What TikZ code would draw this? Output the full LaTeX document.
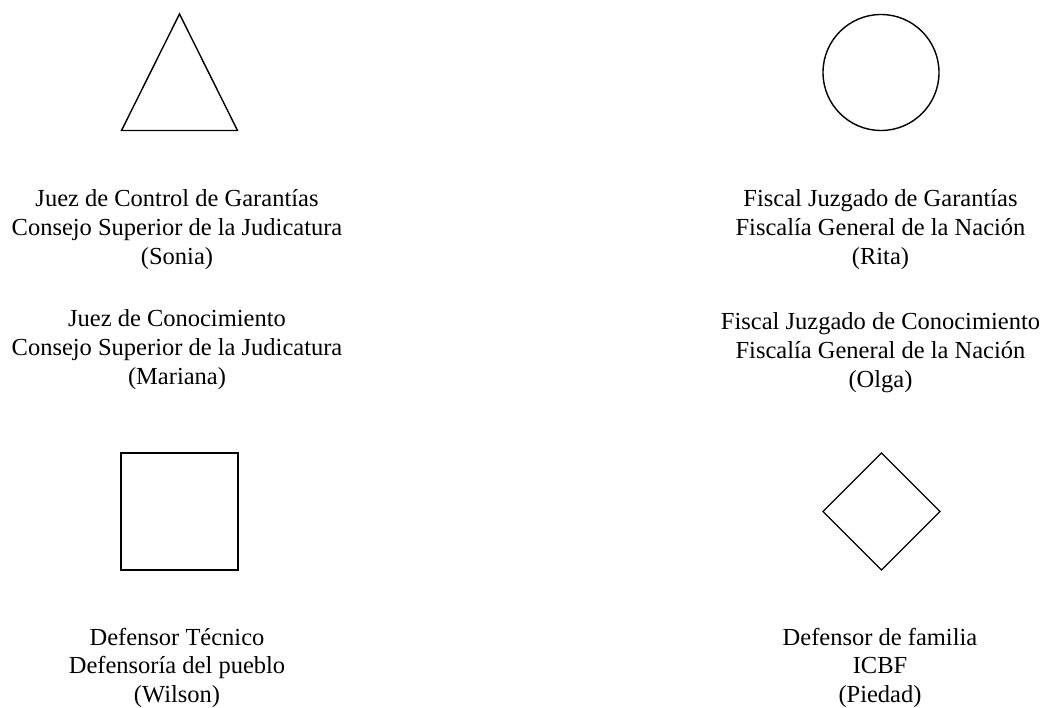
\documentclass[tikz,border=0pt]{standalone}
\usepackage{fontspec}
\setmainfont{Liberation Serif}
\tikzset{
  shapeline/.style={draw=black, line width=1.4pt, line join=miter},
  lbl/.style={anchor=base, inner sep=0pt, font=\fontsize{24.5}{28.8}\selectfont}
}
\newcommand{\blk}[1]{\begin{tabular}[t]{@{}c@{}}#1\end{tabular}}
\begin{document}
\begin{tikzpicture}[x=1pt,y=-1pt]
\useasboundingbox (0,0) rectangle (1045,708);
% shapes
\draw[shapeline] (179.5,14) coordinate (triA) -- (237.5,130.5) coordinate (triB) -- (121.5,130.5) coordinate (triC) -- cycle;
\node[shapeline, circle, minimum size=116pt, inner sep=0pt] (circ) at (881,72.5) {};
\node[shapeline, rectangle, minimum size=117pt, inner sep=0pt] (sq) at (179.5,511.5) {};
\draw[shapeline] (881.5,453) coordinate (dT) -- (940,511.5) coordinate (dR) -- (881.5,570) coordinate (dB) -- (823,511.5) coordinate (dL) -- cycle;
% labels
\node[lbl] (t1) at (177,207) {\blk{Juez de Control de Garantías\\Consejo Superior de la Judicatura\\(Sonia)}};
\node[lbl] (t2) at (177,327) {\blk{Juez de Conocimiento\\Consejo Superior de la Judicatura\\(Mariana)}};
\node[lbl] (t3) at (880.5,207) {\blk{Fiscal Juzgado de Garantías\\Fiscalía General de la Nación\\(Rita)}};
\node[lbl] (t4) at (880.5,330) {\blk{Fiscal Juzgado de Conocimiento\\Fiscalía General de la Nación\\(Olga)}};
\node[lbl] (t5) at (177,645) {\blk{Defensor Técnico\\Defensoría del pueblo\\(Wilson)}};
\node[lbl] (t6) at (880,645) {\blk{Defensor de familia\\ICBF\\(Piedad)}};
\end{tikzpicture}
\end{document}
